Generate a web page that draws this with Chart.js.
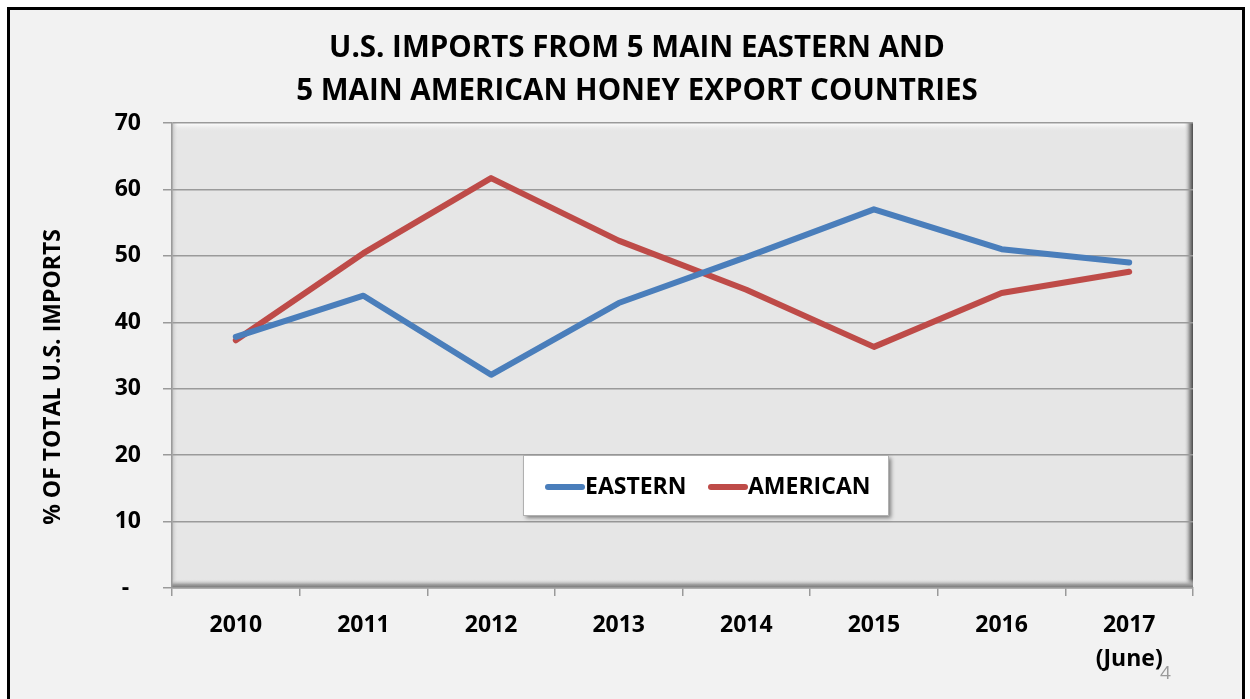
<!DOCTYPE html>
<html>
<head>
<meta charset="utf-8">
<script src="https://cdn.jsdelivr.net/npm/chart.js@4.4.1/dist/chart.umd.min.js"></script>
<style>
    html, body { margin: 0; padding: 0; background: #ffffff; overflow: hidden; }
    #frame {
        position: absolute; left: 7px; top: 7px; width: 1232px; height: 720px;
        border: 3px solid #000; background: #f2f2f2;
    }
    #wrap { position: absolute; left: 0; top: 0; width: 1250px; height: 699px; }
    #pageNum {
        position: absolute; left: 1160px; top: 659px;
        font: 19px "Open Sans", sans-serif; color: #9a9a9a;
    }
</style>
</head>
<body>
<div id="frame"></div>
<div id="wrap"><canvas id="honeyChart"></canvas></div>
<div id="pageNum">4</div>
<script>
// values (% of total U.S. imports)
const years = ['2010', '2011', '2012', '2013', '2014', '2015', '2016', ['2017', '(June)']];
const eastern = [37.8, 44.0, 32.1, 42.9, 49.8, 57.0, 51.0, 49.0];
const american = [37.3, 50.4, 61.7, 52.3, 44.9, 36.3, 44.4, 47.6];
const titleLines = ['U.S. IMPORTS FROM 5 MAIN EASTERN AND', '5 MAIN AMERICAN HONEY EXPORT COUNTRIES'];
const yTitle = '% OF TOTAL U.S. IMPORTS';

const FONT = '"Open Sans", sans-serif';

// plot area fill with excel-like bevel, legend box, titles
const decor = {
    id: 'decor',
    beforeDraw(chart) {
        const {ctx, chartArea: a} = chart;
        ctx.save();
        ctx.fillStyle = '#e6e6e6';
        ctx.fillRect(a.left, a.top, a.right - a.left, a.bottom - a.top);
        let g = ctx.createLinearGradient(0, a.top, 0, a.top + 9);
        g.addColorStop(0, '#ffffff');
        g.addColorStop(1, 'rgba(230,230,230,0)');
        ctx.fillStyle = g;
        ctx.fillRect(a.left, a.top, a.right - a.left, 9);
        g = ctx.createLinearGradient(a.left, 0, a.left + 6, 0);
        g.addColorStop(0, '#bdbdbd');
        g.addColorStop(1, 'rgba(230,230,230,0)');
        ctx.fillStyle = g;
        ctx.fillRect(a.left, a.top, 6, a.bottom - a.top);
        g = ctx.createLinearGradient(a.right - 9, 0, a.right, 0);
        g.addColorStop(0, 'rgba(230,230,230,0)');
        g.addColorStop(0.6, '#9a9a9a');
        g.addColorStop(1, '#4a4a4a');
        ctx.fillStyle = g;
        ctx.fillRect(a.right - 9, a.top, 9, a.bottom - a.top);
        g = ctx.createLinearGradient(0, a.bottom - 9, 0, a.bottom);
        g.addColorStop(0, 'rgba(230,230,230,0)');
        g.addColorStop(0.6, '#a0a0a0');
        g.addColorStop(1, '#707070');
        ctx.fillStyle = g;
        ctx.fillRect(a.left, a.bottom - 9, a.right - a.left, 9);
        ctx.restore();
    },
    afterDraw(chart) {
        const {ctx} = chart;
        ctx.save();
        // title
        ctx.fillStyle = '#000';
        ctx.textAlign = 'center';
        ctx.textBaseline = 'middle';
        ctx.font = 'bold 29.5px ' + FONT;
        ctx.fillText(titleLines[0], 637, 49);
        ctx.fillText(titleLines[1], 637, 92);
        // y axis title
        ctx.translate(53, 377);
        ctx.rotate(-Math.PI / 2);
        ctx.font = 'bold 23px ' + FONT;
        ctx.fillText(yTitle, 0, 0);
        ctx.restore();

        // legend box
        ctx.save();
        ctx.shadowColor = 'rgba(0,0,0,0.45)';
        ctx.shadowBlur = 4;
        ctx.shadowOffsetX = 3;
        ctx.shadowOffsetY = 3;
        ctx.fillStyle = '#ffffff';
        ctx.fillRect(523, 455, 365, 60);
        ctx.restore();
        ctx.save();
        ctx.strokeStyle = '#b0b0b0';
        ctx.lineWidth = 1;
        ctx.strokeRect(523.5, 455.5, 365, 60);
        ctx.font = 'bold 23px ' + FONT;
        ctx.textBaseline = 'middle';
        ctx.textAlign = 'left';
        const xs = [545, 708];
        chart.data.datasets.forEach((ds, i) => {
            ctx.strokeStyle = ds.borderColor;
            ctx.lineWidth = 6;
            ctx.lineCap = 'round';
            ctx.beginPath();
            ctx.moveTo(xs[i] + 3, 487);
            ctx.lineTo(xs[i] + 37, 487);
            ctx.stroke();
            ctx.fillStyle = '#000';
            ctx.fillText(ds.label, xs[i] + 40, 487);
        });
        ctx.restore();
    }
};

const ctx = document.getElementById('honeyChart').getContext('2d');
const honeyChart = new Chart(ctx, {
    type: 'line',
    data: {
        labels: years,
        datasets: [{
                label: 'EASTERN',
                data: eastern,
                borderColor: '#4a7ebb',
                borderWidth: 6,
                borderCapStyle: 'round',
                borderJoinStyle: 'round',
                pointRadius: 0,
                tension: 0
            }, {
                label: 'AMERICAN',
                data: american,
                borderColor: '#be4b48',
                borderWidth: 6,
                borderCapStyle: 'round',
                borderJoinStyle: 'round',
                pointRadius: 0,
                tension: 0
            }]
    },
    options: {
        responsive: true,
        maintainAspectRatio: false,
        animation: false,
        layout: {
            padding: {left: 20, right: 57, top: 123, bottom: 0}
        },
        plugins: {
            legend: {display: false},
            title: {display: false},
            tooltip: {enabled: false}
        },
        scales: {
            x: {
                offset: true,
                afterFit: function (scale) {
                    scale.height = 111;
                },
                border: {color: '#9a9a9a', width: 1.5},
                grid: {
                    offset: true,
                    drawOnChartArea: false,
                    color: '#9a9a9a',
                    tickLength: 8,
                    lineWidth: 1.5
                },
                ticks: {
                    color: '#000',
                    padding: 13,
                    maxRotation: 0,
                    font: {family: FONT, size: 23, weight: 'bold', lineHeight: 1.45}
                }
            },
            y: {
                min: 0,
                max: 70,
                afterFit: function (scale) {
                    scale.width = 152;
                },
                border: {color: '#9a9a9a', width: 1.5},
                grid: {
                    color: '#9a9a9a',
                    lineWidth: 1.5,
                    tickLength: 9
                },
                ticks: {
                    stepSize: 10,
                    color: '#000',
                    padding: 22,
                    font: {family: FONT, size: 23, weight: 'bold'},
                    callback: function (value) {
                        return value === 0 ? '-  ' : value;
                    }
                }
            }
        }
    },
    plugins: [decor]
});
</script>
</body>
</html>
